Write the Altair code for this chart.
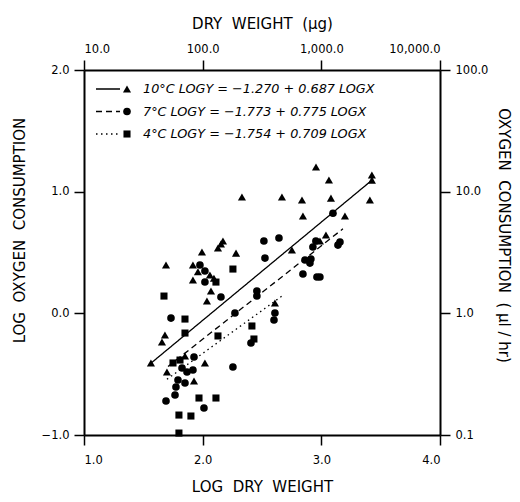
import altair as alt
import pandas as pd

# ---------------- data (log10 dry weight, log10 oxygen consumption) ----------------
# 10 °C  (triangles)
t10_x = [2.955, 3.064, 3.426, 3.426, 3.409, 2.331, 2.668, 2.837, 3.081, 2.845, 3.199,
         2.171, 2.129, 2.154, 2.281, 1.994, 1.691, 1.918, 1.918, 2.070, 2.036, 2.752,
         1.682, 1.657, 1.564, 1.851, 2.019, 1.699, 1.927, 2.609, 3.039, 2.988, 1.960,
         2.061, 2.095]
t10_y = [1.202, 1.096, 1.137, 1.095, 0.931, 0.956, 0.956, 0.931, 0.947, 0.800, 0.800,
         0.595, 0.537, 0.569, 0.495, 0.504, 0.397, 0.397, 0.274, 0.183, 0.101, 0.520,
         -0.178, -0.236, -0.408, -0.351, -0.408, -0.482, -0.556, 0.085, 0.643, 0.594,
         0.342, 0.315, 0.288]
# 7 °C  (circles)
t7_x = [3.098, 2.516, 2.643, 2.525, 2.929, 2.954, 3.157, 3.140, 2.862, 2.912, 2.904,
        2.845, 2.963, 2.988, 2.019, 2.019, 1.977, 2.154, 2.457, 2.457, 1.733, 2.272,
        2.609, 2.601, 2.407, 1.927, 2.255, 1.826, 1.868, 1.918, 1.792, 1.851, 1.775,
        1.767, 1.691, 2.011]
t7_y = [0.823, 0.594, 0.619, 0.454, 0.545, 0.594, 0.586, 0.561, 0.438, 0.446, 0.413,
        0.323, 0.299, 0.299, 0.348, 0.257, 0.397, 0.134, 0.183, 0.142, -0.039, 0.003,
        0.003, -0.055, -0.244, -0.359, -0.441, -0.449, -0.482, -0.466, -0.548, -0.573,
        -0.605, -0.671, -0.720, -0.778]
# 4 °C  (squares)
t4_x = [2.255, 2.112, 1.674, 1.851, 1.851, 2.129, 2.415, 2.432, 1.750, 1.809, 1.969,
        2.112, 1.800, 1.901, 1.800]
t4_y = [0.364, 0.257, 0.142, -0.047, -0.162, -0.186, -0.104, -0.211, -0.408, -0.384,
        -0.696, -0.696, -0.836, -0.844, -0.984]

# regression lines (end points)
l10_x = [1.564, 3.426]
l10_y = [-0.410, 1.094]
l7_x = [1.708, 3.182]
l7_y = [-0.437, 0.695]
l4_x = [1.699, 2.668]
l4_y = [-0.542, 0.142]

groups = ["10°C", "7°C", "4°C"]
legend_text = ["10°C  LOGY = −1.270 + 0.687 LOGX",
               "7°C  LOGY = −1.773 + 0.775 LOGX",
               "4°C  LOGY = −1.754 + 0.709 LOGX"]
x_ticks = [1, 2, 3, 4]
y_ticks = [-1, 0, 1, 2]

# ---------------- tables ----------------
pts = pd.concat([
    pd.DataFrame({"x": t10_x, "y": t10_y, "g": groups[0]}),
    pd.DataFrame({"x": t7_x, "y": t7_y, "g": groups[1]}),
    pd.DataFrame({"x": t4_x, "y": t4_y, "g": groups[2]}),
])
lines = pd.concat([
    pd.DataFrame({"x": l10_x, "y": l10_y, "g": groups[0]}),
    pd.DataFrame({"x": l7_x, "y": l7_y, "g": groups[1]}),
    pd.DataFrame({"x": l4_x, "y": l4_y, "g": groups[2]}),
])

FONT = "DejaVu Sans"
xs = alt.Scale(domain=[1, 4], nice=False, zero=False)
ys = alt.Scale(domain=[-1, 2], nice=False, zero=False)
shape_scale = alt.Scale(domain=groups, range=["triangle-up", "circle", "square"])
size_scale = alt.Scale(domain=groups, range=[66, 50, 50])
dash_scale = alt.Scale(domain=groups, range=[[1, 0], [6, 4], [1.5, 3.5]])

axis_common = dict(domainColor="black", domainWidth=2, tickColor="black", tickWidth=1.5,
                   tickSize=10, labelColor="black", labelFont=FONT, labelFontSize=11.5,
                   titleFont=FONT, titleFontSize=15, titleFontWeight="normal",
                   titleColor="black", grid=False)
SP = "\u00a0\u00a0"

points = alt.Chart(pts).mark_point(filled=True, color="black", opacity=1).encode(
    x=alt.X("x:Q", scale=xs, axis=alt.Axis(values=x_ticks, format=".1f",
            title=f"LOG{SP}DRY{SP}WEIGHT", orient="bottom", labelPadding=9,
            titlePadding=14, **axis_common)),
    y=alt.Y("y:Q", scale=ys, axis=alt.Axis(values=y_ticks, format=".1f",
            title=f"LOG{SP}OXYGEN{SP}CONSUMPTION", orient="left", labelPadding=5,
            titlePadding=14, titleY=160, **axis_common)),
    shape=alt.Shape("g:N", scale=shape_scale, legend=None),
    size=alt.Size("g:N", scale=size_scale, legend=None),
)

reg = alt.Chart(lines).mark_line(color="black", strokeWidth=1.3).encode(
    x=alt.X("x:Q", scale=xs, axis=alt.Axis(values=x_ticks, orient="top",
            labelExpr="format(pow(10, datum.value), ',.1f')",
            title=f"DRY{SP}WEIGHT{SP}(µg)", labelPadding=6, titlePadding=12,
            **axis_common)),
    y=alt.Y("y:Q", scale=ys, axis=alt.Axis(values=y_ticks, orient="right",
            labelExpr="format(pow(10, datum.value), ',.1f')",
            title=f"OXYGEN{SP}CONSUMPTION{SP}( µl / hr)", titleAngle=90,
            labelPadding=5, titlePadding=8, titleY=165, **axis_common)),
    detail="g:N",
    strokeDash=alt.StrokeDash("g:N", scale=dash_scale, legend=None),
)

# ---------------- hand-made legend (top-left inside the frame) ----------------
leg = pd.DataFrame({"g": groups, "label": legend_text, "row": [0, 1, 2]})
row_scale = alt.Scale(domain=[0, 2], range=[19, 64])

leg_lines = alt.Chart(leg).mark_rule(color="black", strokeWidth=1.3).encode(
    x=alt.value(12), x2=alt.value(36),
    y=alt.Y("row:Q", scale=row_scale, axis=None),
    strokeDash=alt.StrokeDash("g:N", scale=dash_scale, legend=None),
)
leg_pts = alt.Chart(leg).mark_point(filled=True, color="black", opacity=1).encode(
    x=alt.value(43),
    y=alt.Y("row:Q", scale=row_scale, axis=None),
    shape=alt.Shape("g:N", scale=shape_scale, legend=None),
    size=alt.Size("g:N", scale=size_scale, legend=None),
)
leg_text = alt.Chart(leg).mark_text(align="left", baseline="middle", font=FONT,
                                    fontSize=12.8, fontStyle="italic", color="black").encode(
    x=alt.value(59),
    y=alt.Y("row:Q", scale=row_scale, axis=None),
    text="label:N",
)

chart = alt.layer(points, reg, leg_lines, leg_pts, leg_text).resolve_axis(
    x="independent", y="independent"
).resolve_scale(
    x="independent", y="independent"
).properties(
    width=356, height=365,
    autosize=alt.AutoSizeParams(type="none"),
    padding={"left": 84, "top": 70, "right": 80, "bottom": 67},
).configure_view(stroke="black", strokeWidth=2).configure(background="white")

chart.save("out.html", embed_options={"renderer": "svg", "actions": False})
